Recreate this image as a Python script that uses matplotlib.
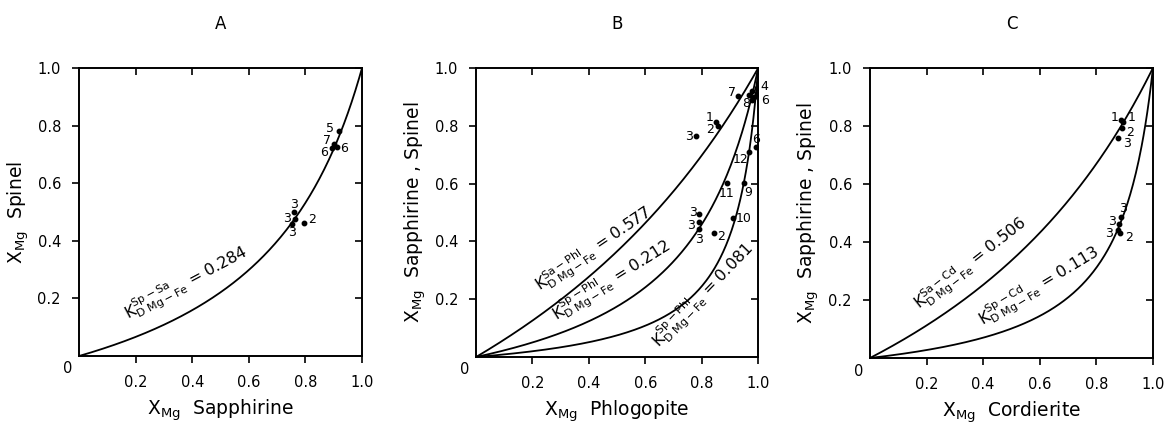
import numpy as np
import matplotlib
matplotlib.use('Agg')
import matplotlib.pyplot as plt
from matplotlib import markers

plt.rcParams['font.family'] = ['DejaVu Sans']
plt.rcParams['mathtext.default'] = 'regular'

# --- data ---
# distribution coefficients of the drawn isopleths
kd_a = [0.284]
kd_b = [0.577, 0.212, 0.081]
kd_c = [0.506, 0.113]

kd_text_a = [r'$K_{D\ Mg-Fe}^{Sp-Sa}$ = 0.284']
kd_text_b = [r'$K_{D\ Mg-Fe}^{Sa-Phl}$ = 0.577',
             r'$K_{D\ Mg-Fe}^{Sp-Phl}$ = 0.212',
             r'$K_{D\ Mg-Fe}^{Sp-Phl}$ = 0.081']
kd_text_c = [r'$K_{D\ Mg-Fe}^{Sa-Cd}$ = 0.506',
             r'$K_{D\ Mg-Fe}^{Sp-Cd}$ = 0.113']

# sample points
a_x = [0.919, 0.902, 0.893, 0.913, 0.760, 0.763, 0.752, 0.795]
a_y = [0.781, 0.735, 0.723, 0.727, 0.499, 0.476, 0.457, 0.463]
a_lab = ['5', '7', '6', '6', '3', '3', '3', '2']

b_x = [0.928, 0.850, 0.857, 0.780, 0.969, 0.995, 0.995, 0.992, 0.969,
       0.889, 0.951, 0.910, 0.791, 0.792, 0.792, 0.845,
       0.980, 0.985, 0.978]
b_y = [0.903, 0.814, 0.799, 0.765, 0.907, 0.930, 0.910, 0.728, 0.710,
       0.602, 0.604, 0.480, 0.495, 0.468, 0.442, 0.431,
       0.920, 0.900, 0.890]
b_lab = ['7', '1', '2', '3', '8', '4', '6', '6', '12',
         '11', '9', '10', '3', '3', '3', '2',
         '', '', '']

c_x = [0.888, 0.895, 0.889, 0.877, 0.886, 0.880, 0.877, 0.883]
c_y = [0.820, 0.812, 0.794, 0.760, 0.485, 0.462, 0.441, 0.430]
c_lab = ['1', '1', '2', '3', '3', '3', '3', '2']

# label offsets (pixels)
a_off = [(-9, 3), (-7, 4), (-8, -5), (7, -2), (0, 8), (-8, 0), (0, -8), (8, 3)]
b_off = [(-6, 4), (-6, 4), (-8, -3), (-7, 0), (-3, -8), (8, 2), (8, -6),
         (0, 7), (-9, -8), (0, -10), (4, -10), (11, 0), (-6, 2), (-8, -4),
         (0, -10), (7, -4), (0, 0), (0, 0), (0, 0)]
c_off = [(-7, 3), (8, 5), (9, -5), (9, -6), (2, 9), (-7, 2), (-9, -3), (9, -4)]

# text anchor (x, y, rotation)
a_tpos = [(0.186, 0.100, 28)]
b_tpos = [(0.245, 0.200, 34), (0.300, 0.100, 32), (0.670, 0.010, 46)]
c_tpos = [(0.194, 0.140, 38), (0.412, 0.085, 31)]

fig = plt.figure(figsize=(11.64, 4.26), dpi=100)


def panel(rect, title, xlabel, ylabel, kds, texts, tpos, px, py, labs, offs):
    ax = fig.add_axes(rect)
    xx = np.linspace(0, 1, 300)
    for k in kds:
        ax.plot(xx, k * xx / (1 - xx + k * xx), color='black', lw=1.3)
    for t, (tx, ty, rot) in zip(texts, tpos):
        ax.text(tx, ty, t, rotation=rot, rotation_mode='anchor',
                ha='left', va='bottom', fontsize=11.5)
    ax.plot(px, py, 'o', color='black', ms=3.2, zorder=3)
    for x, y, l, (dx, dy) in zip(px, py, labs, offs):
        if l:
            ax.annotate(l, (x, y), xytext=(dx, dy), textcoords='offset pixels',
                        ha='center', va='center', fontsize=9)
    ax.set_xlim(0, 1)
    ax.set_ylim(0, 1)
    ticks = [0.2, 0.4, 0.6, 0.8, 1.0]
    ax.set_xticks(ticks)
    ax.set_yticks(ticks)
    ax.set_xticklabels(['0.2', '0.4', '0.6', '0.8', '1.0'])
    ax.set_yticklabels(['0.2', '0.4', '0.6', '0.8', '1.0'])
    ax.tick_params(direction='out', length=5, width=1.2, labelsize=10.5,
                   top=True, right=True, labeltop=False, labelright=False)
    ax.tick_params(axis='x', pad=9)
    ax.tick_params(axis='y', pad=8)
    # top and right ticks point inward
    for t in ax.xaxis.get_major_ticks():
        t.tick2line.set_marker(markers.TICKDOWN)
    for t in ax.yaxis.get_major_ticks():
        t.tick2line.set_marker(markers.TICKLEFT)
    for s in ax.spines.values():
        s.set_linewidth(1.4)
    ax.text(-0.04, -0.045, '0', transform=ax.transAxes, ha='center',
            va='center', fontsize=10.5)
    ax.set_title(title, fontsize=12, pad=28)
    ax.set_xlabel(xlabel, fontsize=13.5, labelpad=5)
    ax.set_ylabel(ylabel, fontsize=13.5, labelpad=5)
    return ax


panel([0.0679, 0.1643, 0.2431, 0.676], 'A', r'$X_{Mg}$  Sapphirine',
      r'$X_{Mg}$  Spinel', kd_a, kd_text_a, a_tpos,
      a_x, a_y, a_lab, a_off)
panel([0.409, 0.162, 0.2423, 0.678], 'B', r'$X_{Mg}$  Phlogopite',
      r'$X_{Mg}$  Sapphirine , Spinel', kd_b, kd_text_b, b_tpos,
      b_x, b_y, b_lab, b_off)
panel([0.7474, 0.1596, 0.2431, 0.681], 'C', r'$X_{Mg}$  Cordierite',
      r'$X_{Mg}$  Sapphirine , Spinel', kd_c, kd_text_c, c_tpos,
      c_x, c_y, c_lab, c_off)

fig.savefig('out.png', dpi=100)
